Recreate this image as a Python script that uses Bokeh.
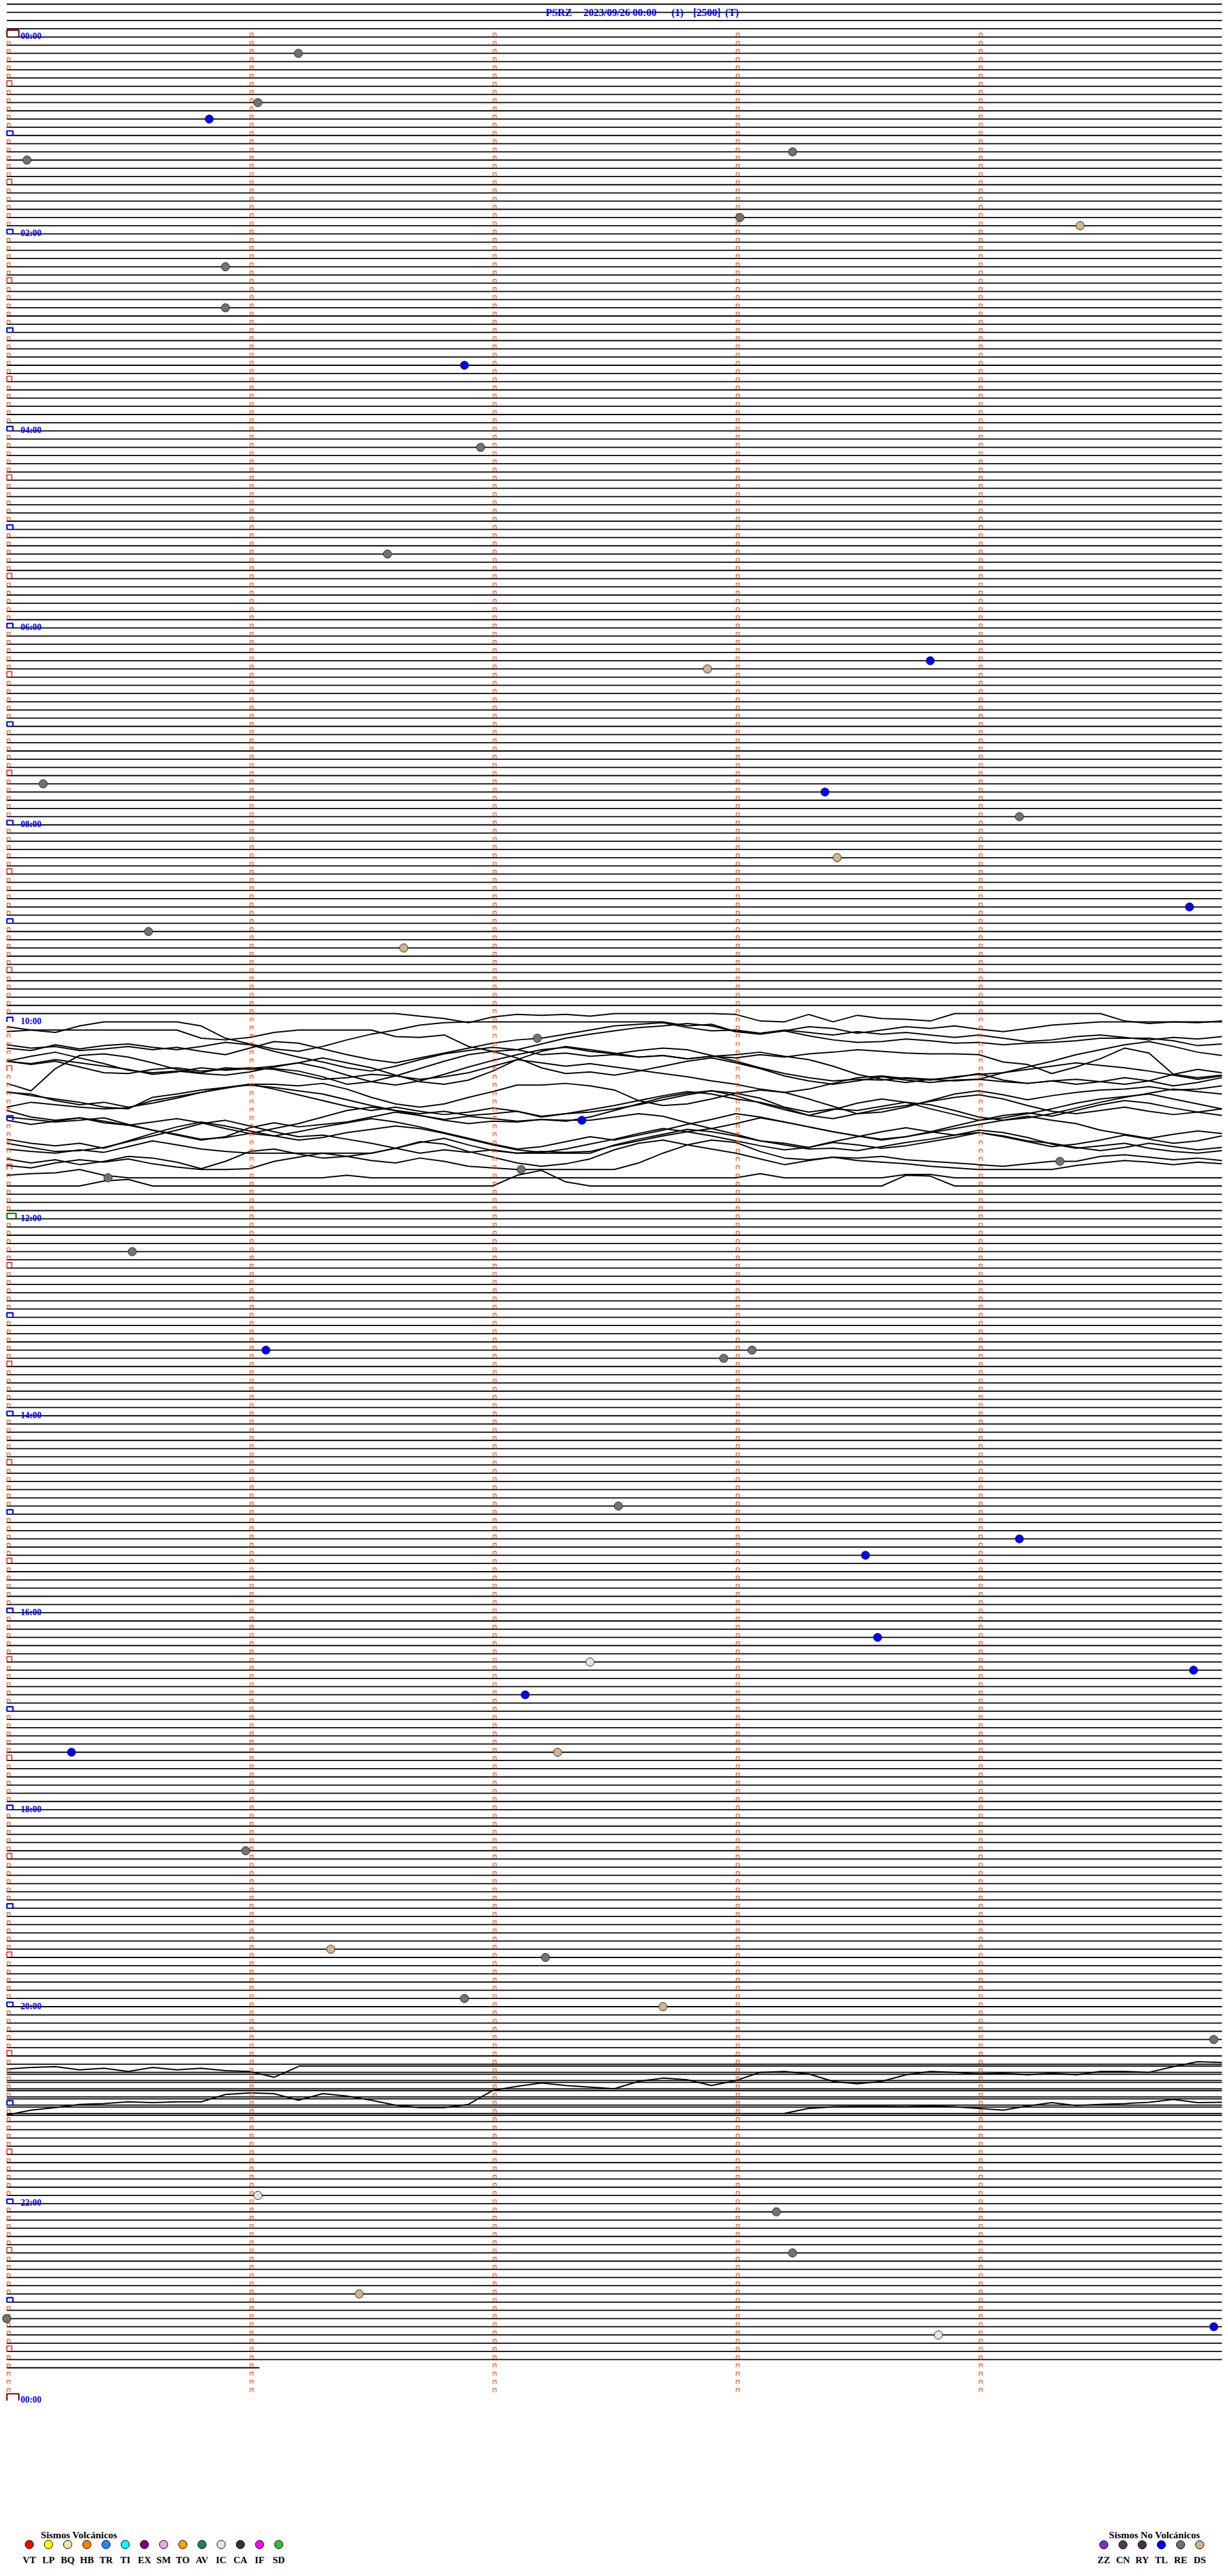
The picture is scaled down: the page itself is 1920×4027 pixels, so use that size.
import numpy as np
from bokeh.plotting import figure
from bokeh.models import Range1d
from bokeh.core.properties import value
from bokeh.embed import file_html
from bokeh.resources import INLINE

# ---------------------------------------------------------------- data
TITLE_PARTS = ["PSRZ", "2023/09/26 00:00", "(1)", "[2500]", "(T)"]
MINUTES_PER_LINE = 5
FIRST_ROW = -4            # lines drawn above the 00:00 line
LAST_ROW = 284            # 23:40 line (data stops on it)
LAST_ROW_END = 1.04       # minutes of data on the last line
DAY_ROWS = 288

EVENT_TIMES = ["00:11:12", "00:41:02", "00:50:50", "01:15:05", "01:13:14", "01:53:01",
               "01:59:25", "02:20:54", "02:45:54", "03:21:53", "04:11:57", "05:16:34",
               "06:27:53", "06:23:48", "07:35:09", "07:43:22", "07:59:10", "08:23:25",
               "08:54:52", "09:05:35", "09:16:38", "10:12:11", "11:02:22", "11:29:20",
               "11:32:07", "11:35:25", "12:20:31", "13:21:04", "13:27:57", "13:23:04",
               "14:57:31", "15:19:10", "15:28:32", "16:18:35", "16:32:24", "16:39:53",
               "16:52:08", "17:25:16", "17:27:16", "18:25:59", "19:26:20", "19:32:13",
               "19:56:53", "20:02:42", "20:24:58", "21:56:02", "22:08:10", "22:33:14",
               "22:56:27", "23:10:00", "23:19:58", "23:23:50"]
EVENT_TYPES = ["RE", "RE", "TL", "RE", "RE", "RE",
               "DS", "RE", "RE", "TL", "RE", "RE",
               "DS", "TL", "RE", "TL", "RE", "DS",
               "TL", "RE", "DS", "RE", "TL", "RE",
               "RE", "RE", "RE", "TL", "RE", "RE",
               "RE", "TL", "TL", "TL", "IC", "TL",
               "TL", "TL", "DS", "RE", "DS", "RE",
               "RE", "DS", "RE", "IC", "RE", "RE",
               "DS", "RE", "TL", "IC"]

VOLC_CODES = ["VT", "LP", "BQ", "HB", "TR", "TI", "EX", "SM", "TO", "AV", "IC", "CA", "IF", "SD"]
VOLC_COLORS = ["#FF0000", "#FFFF00", "#F2E2A6", "#FF8000", "#2088FF", "#00FFFF", "#800080",
               "#E8A8E8", "#FFA000", "#208060", "#E4E4E4", "#402840", "#FF00FF", "#30C030"]
NOVOLC_CODES = ["ZZ", "CN", "RY", "TL", "RE", "DS"]
NOVOLC_COLORS = ["#8030C8", "#503A5A", "#4A3048", "#0000FF", "#6E746E", "#D2B48C"]

# Seismic traces during the large disturbance (amplitude in line units, every 0.1 min)
TRACE_STEP = 0.1
NOISY_TRACES = {
    119: [0, 0, 0, 0, 0, 0, 0, 0, 0, 0,
          0, 0, 0, 0, 0, 0, 0, .3, .6, 1.1,
          .4, .1, .2, .1, .3, 0, 0, 0, 0, 0,
          .1, .9, 1.0, .1, 1.0, .2, .6, .7, .9, 0,
          0, 0, 0, 0, 0, 0, .9, 1.2, 1.0, 1.1, .9],
    120: [.6, 1.0, 1.3, .5, 0, 0, 0, 0, .5, 2.0,
          2.7, 3.3, 3.6, 3.0, 2.2, 1.5, 1.0, .4, .1, 0,
          0, 0, 0, 0, 0, 0, 0, 0, .5, .3,
          1.2, 1.5, 1.1, .6, .8, 1.4, 1.0, .6, .8, .5,
          .9, 1.2, .8, .4, .2, 0, 0, 0, 0, 0, 0],
    121: [.2, 0, 0, 0, 0, 0, 0, 0, 1.0, 1.2,
          .9, .3, 0, 0, 0, 0, .8, .9, .6, 2.0,
          2.6, 2.4, 1.7, 1.0, .5, .1, -.3, -.5, -.8, -.5,
          .2, .4, 0, .3, .6, .2, .5, .3, .6, .9,
          .6, 1.0, 1.4, 1.2, .8, .6, .9, 1.2, .9, 1.1, .8],
    122: [.8, 1.2, 1.0, 1.5, 1.3, 1.0, 1.4, 1.1, 1.6, 2.0,
          1.2, .4, .6, 1.3, 2.0, 2.6, 3.0, 2.4, 1.8, 1.2,
          .6, .2, 0, -.5, -1.0, -1.5, -1.7, -1.9, -1.3, -.9,
          -1.0, -.6, -.9, -.3, .2, .5, .4, .1, .3, .6,
          .5, .8, .6, .5, .3, 0, 0, 0, .3, .9, .7],
    123: [.2, .5, -.2, .3, -.1, -.3, .1, .4, 0, -.5,
          -.2, .6, 1.3, 1.9, 2.6, 3.0, 2.4, 1.6, .9, .5,
          .1, .4, 1.0, .8, 1.2, 1.0, 1.3, 1.1, 1.5, 1.2,
          1.4, 1.0, 1.3, .9, .7, .4, .6, .8, .9, .9,
          1.0, 1.9, 2.2, 3.3, 2.5, 1.5, .2, .8, 3.4, 3.8, 3.5],
    124: [.8, .2, -.3, .4, 1.1, 1.9, 2.2, 2.0, 2.3, 2.5,
          2.1, 1.5, 1.0, .4, 1.0, 1.6, 2.5, 3.3, 3.6, 3.1,
          2.0, .6, -.4, -1.0, -.6, -.2, .3, .1, .5, .2,
          0, -.3, .2, .6, 1.4, 2.4, 3.0, 3.4, 3.0, 2.8,
          2.3, 3.1, 3.5, 3.2, 3.6, 3.3, 2.8, 3.2, 3.8, 3.4, 2.8],
    125: [-.2, .1, -.4, 0, .4, .8, 1.4, 1.1, .6, .9,
          .7, .4, 0, .6, 1.5, 2.3, 2.7, 2.2, 1.4, .5,
          -.3, -1.0, -1.6, -1.9, -1.4, -1.1, -1.5, -1.8, -1.6, -.9,
          -.2, .6, 1.3, 1.8, 2.2, 2.0, 2.1, 1.8, 2.0, 2.2,
          2.0, 1.2, .5, -.2, -1.0, -1.6, -2.2, -2.6, -2.0, -1.3, -.9],
    126: [-1.2, -.8, -1.2, -.5, .2, .3, -.2, -.4, 0, -.2,
          -.4, -.2, .4, 1.0, .8, .4, .6, 1.0, .7, .2,
          -.6, -1.4, -1.0, -.6, -.9, -.5, -.1, .3, .7, 1.2,
          1.6, 2.2, 2.6, 2.2, 1.5, .8, .6, .9, 1.1, .7,
          .4, .2, -.2, -.6, -1.0, -.7, -.4, 0, .5, 1.0, .6],
    127: [.5, 1.4, -1.3, -2.9, -3.1, -2.7, -2.0, -1.2, -.8, -1.4,
          -1.2, -1.3, -1.0, -.3, .6, .3, -.4, -1.3, -2.2, -3.0,
          -3.4, -2.6, -1.4, -.7, -.9, -.5, -1.0, -1.6, -2.2, -2.6,
          -2.0, -1.3, -.4, .2, .6, .2, -.3, .1, .4, .1,
          0, .3, .5, .2, 0, .3, .6, .2, -.6, -1.2, -.8],
    128: [.5, 1.0, 1.4, 1.8, 2.4, 2.6, 1.2, .8, .3, 0,
          -.4, -.4, -.2, -.5, .2, 1.2, 2.0, 2.4, 2.0, 1.2,
          .5, -.3, -.3, -.5, -.2, .3, 1.6, 2.2, 2.0, 1.4,
          .7, .3, .6, 1.4, 2.3, 3.2, 3.0, 2.4, 1.6, .8,
          .4, .9, 1.5, 1.0, .6, .3, .2, -.1, .3, .2, -.2],
    129: [-.4, -.2, .6, 1.1, .8, 1.4, .9, .3, -.4, -1.0,
          -1.3, -1.0, -.6, -.2, .5, 1.2, 1.8, 2.2, 1.9, 2.4,
          2.2, 1.9, 2.6, 2.2, 2.0, 1.6, 1.1, .5, -.1, -.6,
          -.3, .3, 1.4, 2.0, 1.6, 1.8, 1.3, .8, 1.1, 1.8,
          2.6, 3.0, 2.7, 2.2, 1.5, .8, .2, -.3, -.8, -.5, -.2],
    130: [.4, -.2, .1, .4, .6, .5, -.4, -.9, -1.4, -1.9,
          -2.4, -1.8, -1.1, -.4, .3, .8, .4, .9, 1.3, 1.0,
          .5, .9, 1.5, 1.2, .7, .2, -.4, -1.0, -1.5, -1.2,
          -.6, -.2, .5, 1.4, 1.8, 1.2, .6, .2, -.3, -.8,
          -1.1, -.6, .2, .9, 1.2, .8, .4, .9, 1.3, 1.0, .6],
    131: [-.2, .6, 1.0, .7, 1.3, 1.6, 1.2, .8, 1.3, 2.0,
          2.6, 2.0, 1.4, .6, -.2, -.6, -.2, .4, .9, .5,
          .8, 1.1, .9, 1.1, .6, -.2, -1.0, -1.8, -2.3, -2.6,
          -2.0, -1.1, -.3, .4, -.3, -1.1, -1.6, -1.2, -.4, .3,
          1.0, .7, .2, -.4, -1.1, -1.6, -1.9, -2.2, -1.6, -1.0, -.4],
    132: [-.4, -.1, .2, 0, -.3, .5, 1.2, 1.8, 2.4, 2.0,
          .9, .3, .8, .5, .2, -.4, -1.0, -.6, 0, .4,
          .1, .2, -.1, 0, 0, -.4, -.8, -.5, .3, 1.0,
          .4, -.3, .2, .8, 1.4, 1.9, 2.3, 2.0, 1.4, .7,
          0, -.6, -.9, -.5, -1.2, -1.9, -2.4, -2.1, -1.5, -1.0, -.6],
    133: [-1.0, -.5, -.9, -1.3, -.9, -.4, .2, .7, 1.3, 1.1,
          .6, .9, .4, -.2, -.7, -1.2, -.8, -.2, .5, 1.2,
          1.9, 2.5, 2.2, 1.6, 1.0, 1.4, .8, .2, -.5, -1.1,
          -1.8, -1.4, -.8, -.2, .4, .9, 1.4, 1.0, .5, 0,
          -.5, -1.0, -1.5, -1.0, -.6, .2, .7, 1.2, .7, .3, .6],
    134: [.3, .8, 1.1, .8, 1.4, .5, -.4, -1.2, -1.8, -1.3,
          -.7, -.1, .4, .1, -.5, -.9, -1.3, -1.0, -.4, .3,
          1.0, 1.6, 1.9, 1.5, .9, .3, -.4, -1.0, -.6, -.1,
          .5, 1.1, 1.6, 1.3, .7, 1.0, 1.4, 1.1, .6, .1,
          -.5, 0, .6, 1.2, .9, .4, -.2, .3, .8, .5, -.1],
    135: [-.2, .3, .8, .7, .3, -.4, -1.1, -1.8, -2.6, -3.0,
          -2.3, -1.6, -1.0, -1.2, -.7, -.2, .4, 1.0, .6, .9,
          .6, 1.0, .8, .9, .8, .1, -.5, -1.1, -1.6, -2.0,
          -1.3, -.5, -.2, .3, -.4, -1.0, -1.6, -2.1, -1.6, -1.2,
          -1.5, -1.1, -.5, -.2, .3, .7, .3, -.2, .2, .6, .3],
    136: [-.5, -.2, 0, -.4, -.1, -.8, -1.5, -1.0, -.5, -.2,
          0, 0, 0, 0, 0, 0, -.6, -1.3, -1.8, -1.0,
          -.3, 0, 0, 0, 0, -1.0, -1.7, -2.3, -2.9, -2.6,
          -2.1, -1.5, -1.0, -.5, -.6, -.3, -.8, -1.3, -1.7, -2.2,
          -2.8, -2.5, -1.9, -1.1, -.6, -.9, -1.2, -.6, -.2, 0, -.3],
    137: [-.3, .2, -.2, .4, 0, -.6, -.4, .1, .9, 0,
          -1.2, -1.5, -.9, -.4, -.6, -1.0, -1.6, -2.4, -2.1, -1.2,
          -.5, .2, .6, .3, -.3, -1.4, -2.2, -2.6, -2.0, -1.5,
          -1.0, -.3, .4, -.1, -.5, -.4, -.6, -.2, 0, .2,
          .4, .6, .3, 0, 0, -.6, -.8, -.5, -.2, -.4, -.1],
    138: [-.5, -.2, -.8, -1.2, -.9, -1.3, -.7, -.3, 0, 0,
          -.1, -1.0, -1.5, -2.0, -1.6, -1.1, -.8, -1.4, -1.0, -.4,
          -.2, 0, 0, 0, 0, 0, -.8, -2.0, -3.0, -3.6,
          -3.3, -2.2, -1.4, -1.2, -1.5, -1.1, -.9, -.7, -.4, -.2,
          0, 0, 0, 0, -.5, -.8, -1.1, -.9, -.6, -.9, -.7],
    139: [-.3, -.5, -.6, -1.0, -.3, 0, 0, 0, 0, 0,
          0, 0, 0, 0, -.3, 0, 0, 0, 0, 0,
          0, 0, 0, 0, 0, 0, 0, 0, 0, 0,
          0, -.5, 0, 0, 0, 0, 0, -.4, -.4, 0,
          0, 0, 0, 0, 0, 0, 0, 0, 0, 0, 0],
    140: [0, 0, 0, 0, -.6, -.8, 0, 0, 0, 0,
          0, 0, 0, 0, 0, 0, 0, 0, 0, 0,
          0, -1.3, -1.9, -.5, 0, 0, 0, 0, 0, 0,
          0, 0, 0, 0, 0, 0, 0, -1.3, -1.2, 0,
          0, 0, 0, 0, 0, 0, 0, 0, 0, 0, 0],
}

# 20:35 - 21:05 : lines show a second, shifted copy plus a few wandering traces
OFFSET_ROWS = [247, 248, 249, 250, 251, 252, 253]
OFFSET_AMP = 0.23
OFFSET_START = {247: 1.2}
EXTRA_TRACES = [
    # (base line, start minute, amplitudes every 0.1 min)
    (247, 0.0, [.6, .4, .3, .7, .5, .9, .4, .7, .5, .8, .9, 1.6, .3]),
    (253, 0.0, [.2, -.4, -.7, -1.1, -1.2, -1.4, -1.3, -1.4, -1.4, -2.3,
                -2.5, -2.4, -1.6, -2.4, -2.1, -1.6, -1.0, -.7, -.7, -1.1,
                -2.8, -3.3, -3.7, -3.4, -3.2, -3.0, -3.9, -4.3, -4.1, -3.4,
                -4.0, -5.0, -5.1, -4.8, -3.9, -3.6, -3.9, -4.7, -5.1, -5.0,
                -4.8, -4.9, -4.7, -4.9, -4.7, -5.1, -5.1, -5.0, -5.7, -6.3, -6.2]),
    (253, 3.2, [0, -.6, -.8, -.85, -.85, -.8, -.9, -.8, -.6, -.4,
                -.9, -1.3, -.95, -1.1, -1.2, -1.35, -1.7, -1.3, -1.35]),
]

# ---------------------------------------------------------------- layout helpers
S = 12.83      # pixels per 5-minute line
PXM = 380.0    # pixels per minute
W, H = 1920, 4020


def mx(xref):
    return (xref - 10.0) / PXM


def ry(yref):
    return (yref - 57.3) / S


p = figure(width=W, height=H, output_backend="svg", toolbar_location=None,
           x_range=Range1d(mx(0), mx(W)), y_range=Range1d(ry(H), ry(0)),
           x_axis_type=None, y_axis_type=None, min_border=0,
           outline_line_color=None, background_fill_color="white",
           border_fill_color="white")

# flat trace lines
fx, fy = [], []
for r in range(FIRST_ROW, LAST_ROW + 1):
    if r in NOISY_TRACES:
        continue
    end = LAST_ROW_END if r == LAST_ROW else MINUTES_PER_LINE
    fx.append([0, end])
    fy.append([r, r])
for r in OFFSET_ROWS:
    st = OFFSET_START.get(r, 0)
    fx.append([st, MINUTES_PER_LINE])
    fy.append([r + OFFSET_AMP, r + OFFSET_AMP])
p.multi_line(fx, fy, line_color="black", line_width=1.8)

# wandering traces
nx, ny = [], []
for r, amps in NOISY_TRACES.items():
    nx.append([i * TRACE_STEP for i in range(len(amps))])
    ny.append([r + a for a in amps])
for base, st, amps in EXTRA_TRACES:
    nx.append([st + i * TRACE_STEP for i in range(len(amps))])
    ny.append([base + a for a in amps])
p.multi_line(nx, ny, line_color="black", line_width=2.0)

# minute ticks
w, h, b = 4.6 / PXM, 5.2 / S, 0.7 / S
mxs, mys = [], []
for k in range(0, DAY_ROWS):
    for c in range(MINUTES_PER_LINE):
        if c == 0 and k % 6 == 0:
            continue
        x0 = c + 0.6 / PXM
        mxs.append([x0, x0, x0 + w, x0 + w])
        mys.append([k - b, k - b - h, k - b - h, k - b])
p.multi_line(mxs, mys, line_color="#FF4500", line_width=1.2)


def bracket(rows, wpx, hpx, color, lw):
    xs, ys = [], []
    x0 = mx(10.3)
    for k in rows:
        xs.append([x0, x0, x0 + wpx / PXM, x0 + wpx / PXM])
        ys.append([k, k - hpx / S, k - hpx / S, k])
    p.multi_line(xs, ys, line_color=color, line_width=lw)


half_rows = [k for k in range(6, DAY_ROWS, 12)]
hour_rows = [k for k in range(12, DAY_ROWS, 12) if k != 144]
bracket(half_rows, 7.7, 8.5, "#FF0000", 1.4)
bracket(hour_rows, 9.4, 7.0, "#0000FF", 2.2)
bracket([144], 14.4, 8.5, "#008000", 2.2)
bracket([0, DAY_ROWS], 18.7, 10.6, "#800000", 2.2)

# hour labels
lab_rows = list(range(0, DAY_ROWS + 1, 24))
lab_text = ["%02d:00" % ((k // 12) % 24) for k in lab_rows]
p.text(x=[mx(31.7)] * len(lab_rows), y=[k - 1.0 / S for k in lab_rows], text=lab_text,
       text_font=value("Liberation Serif"), text_font_style="bold", text_font_size="14px",
       text_color="#0000FF", text_align="left", text_baseline="alphabetic")

# title
title_x = [852.7, 911.7, 1049.3, 1083.3, 1133.3]
p.text(x=[mx(v) for v in title_x], y=[ry(18.6)] * len(TITLE_PARTS), text=TITLE_PARTS,
       text_font=value("Liberation Serif"), text_font_style="bold", text_font_size="16px",
       text_color="#0000FF", text_align="left", text_baseline="alphabetic")

# events
color_of = dict(zip(VOLC_CODES + NOVOLC_CODES, VOLC_COLORS + NOVOLC_COLORS))
ev_x, ev_y, ev_c = [], [], []
for t, typ in zip(EVENT_TIMES, EVENT_TYPES):
    hh, mm, ss = (int(v) for v in t.split(":"))
    tm = hh * 60 + mm + ss / 60.0
    row = int(tm // MINUTES_PER_LINE)
    ev_x.append(tm - row * MINUTES_PER_LINE)
    ev_y.append(row)
    ev_c.append(color_of[typ])
p.scatter(ev_x, ev_y, marker="circle", size=13, fill_color=ev_c,
          line_color="#2a2a2a", line_width=1)

# legends
lg_font = value("Liberation Serif")
vx = [mx(45.3 + 30 * i) for i in range(len(VOLC_CODES))]
p.scatter(vx, [ry(3977.3)] * len(vx), marker="circle", size=13, fill_color=VOLC_COLORS,
          line_color="black", line_width=1)
p.text(x=vx, y=[ry(4001.7)] * len(vx), text=VOLC_CODES, text_font=lg_font,
       text_font_style="bold", text_font_size="15px", text_color="black",
       text_align="center", text_baseline="alphabetic")
p.text(x=[mx(63.3)], y=[ry(3962.3)], text=["Sismos Volcánicos"], text_font=lg_font,
       text_font_style="bold", text_font_size="15.5px", text_color="black",
       text_align="left", text_baseline="alphabetic")

nvx = [mx(1725.3 + 30 * i) for i in range(len(NOVOLC_CODES))]
p.scatter(nvx, [ry(3977.7)] * len(nvx), marker="circle", size=13, fill_color=NOVOLC_COLORS,
          line_color="black", line_width=1)
p.text(x=nvx, y=[ry(4001.7)] * len(nvx), text=NOVOLC_CODES, text_font=lg_font,
       text_font_style="bold", text_font_size="15px", text_color="black",
       text_align="center", text_baseline="alphabetic")
p.text(x=[mx(1733.3)], y=[ry(3962.3)], text=["Sismos No Volcánicos"], text_font=lg_font,
       text_font_style="bold", text_font_size="15.5px", text_color="black",
       text_align="left", text_baseline="alphabetic")

open("out.html", "w").write(file_html(p, INLINE))
